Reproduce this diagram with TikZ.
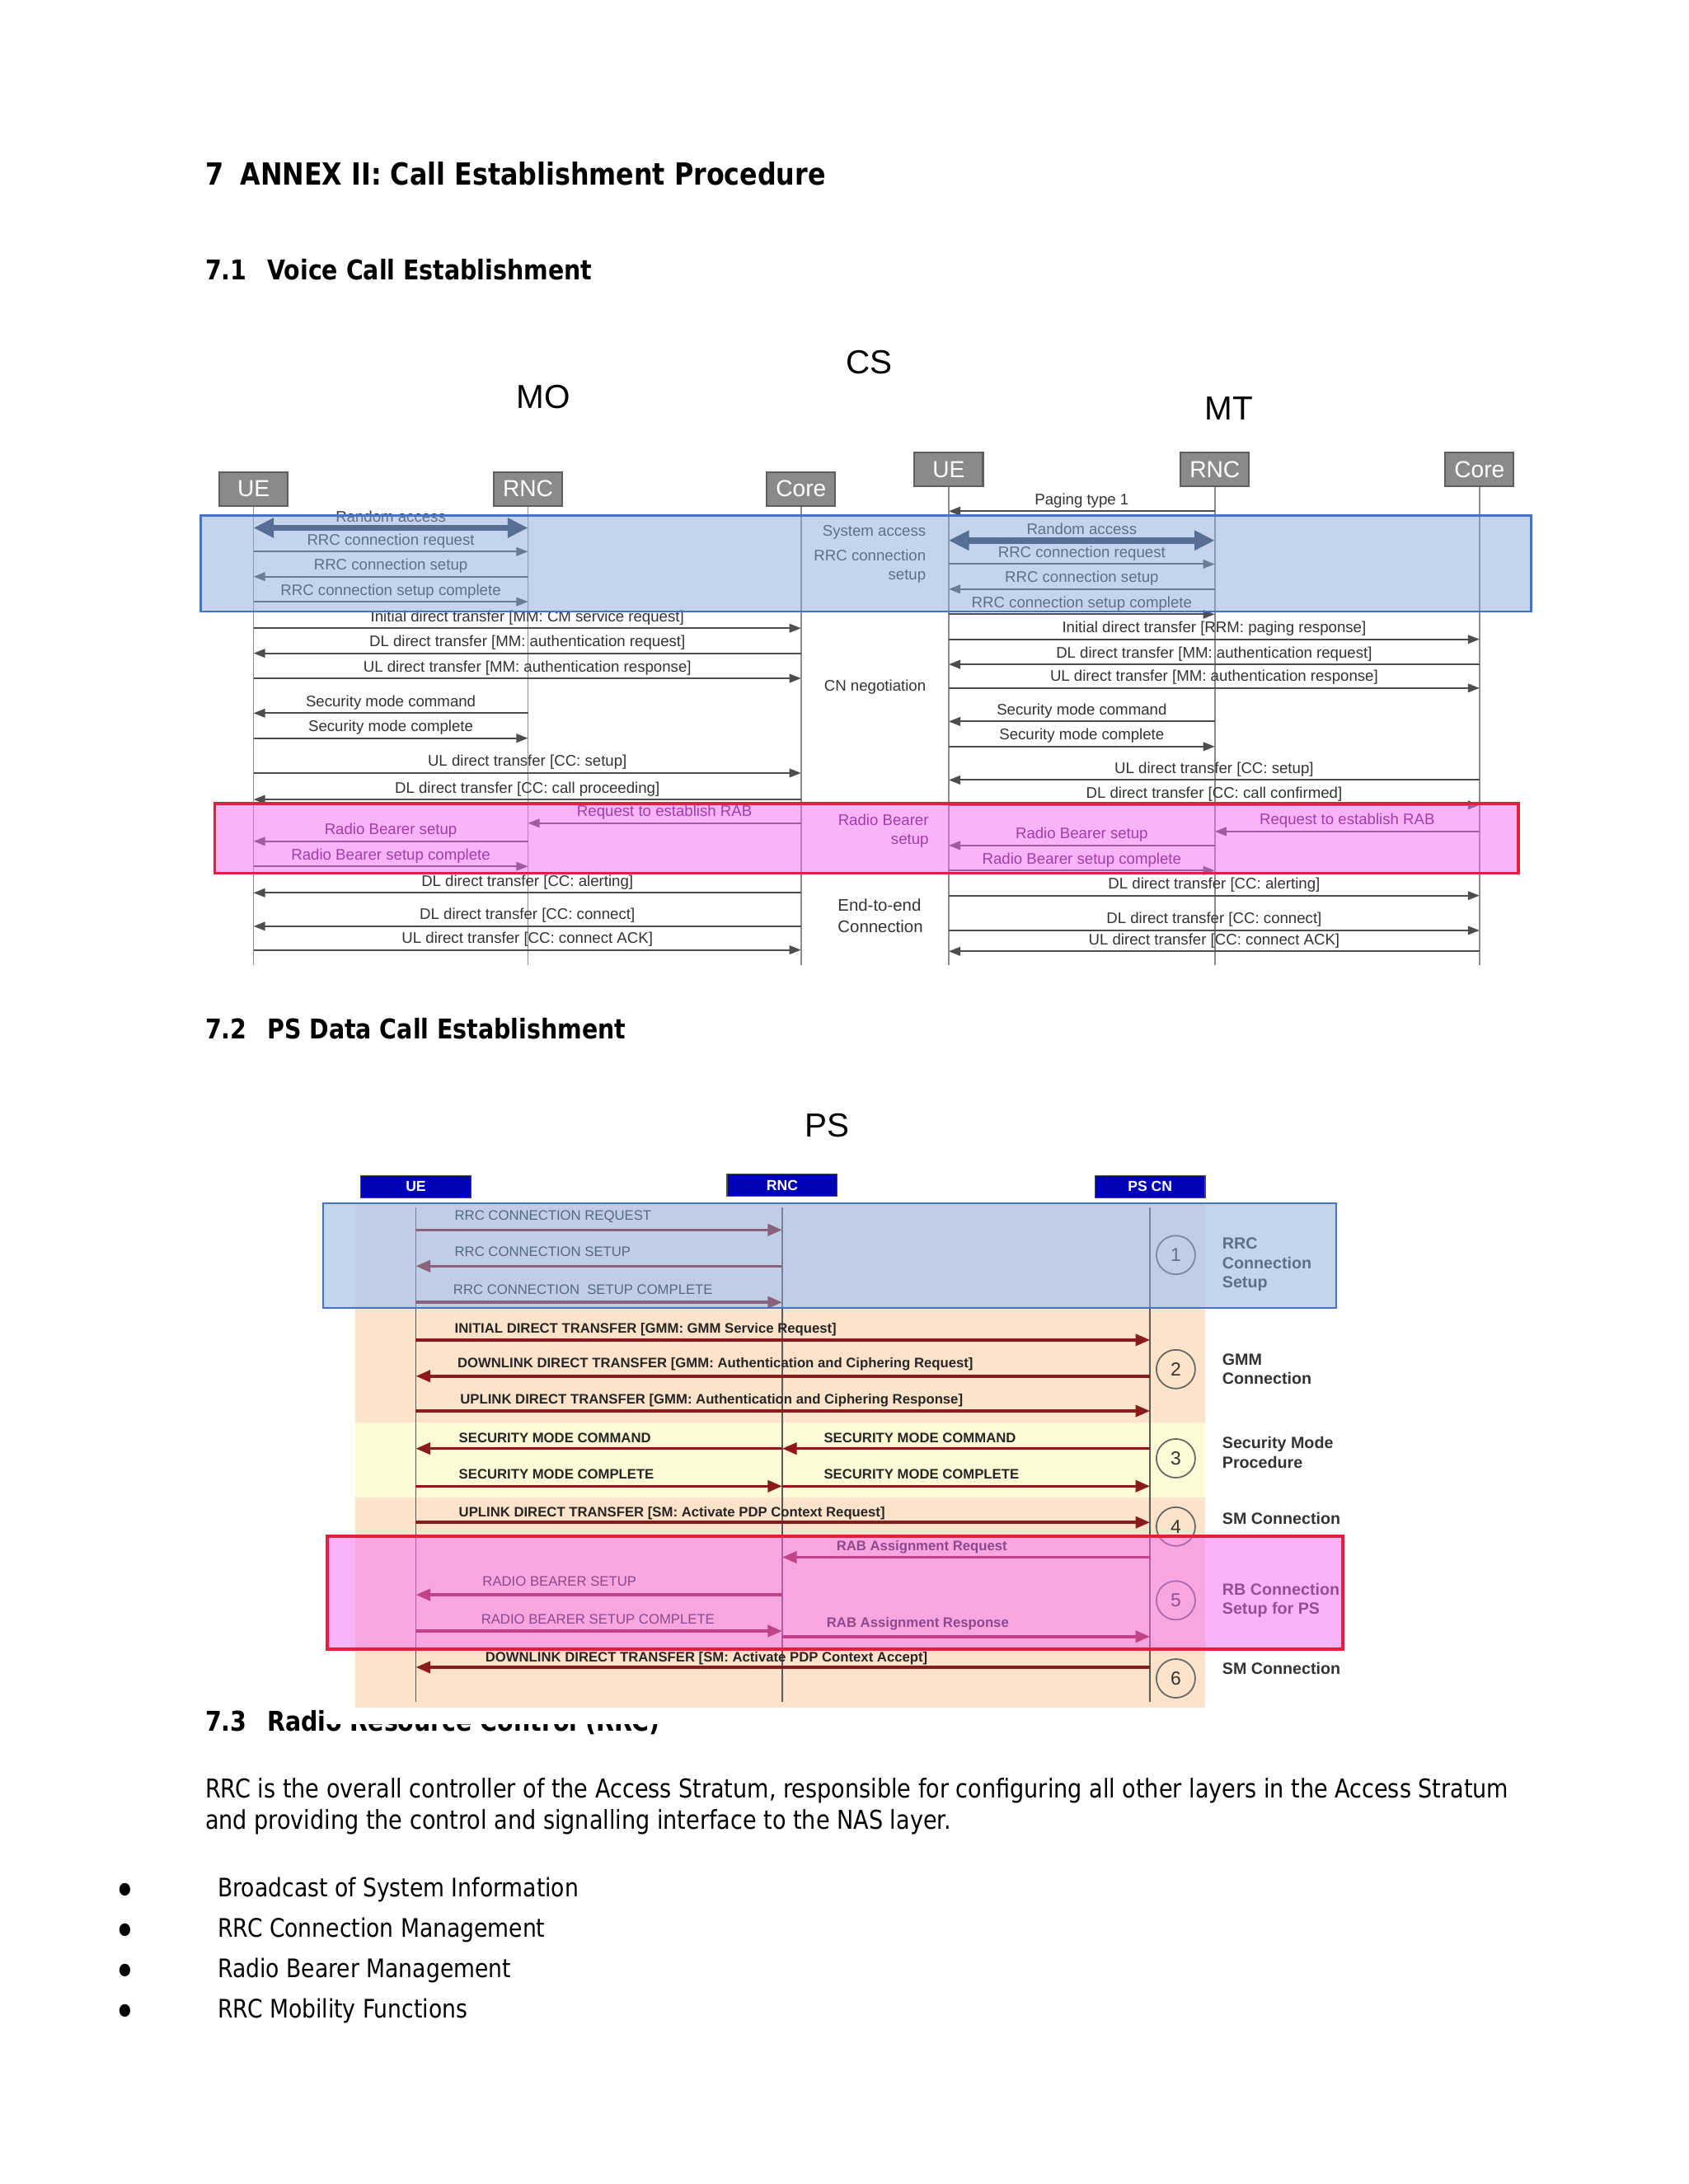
\documentclass[tikz,border=0pt]{standalone}
\usepackage{fontspec}
\setmainfont{DejaVu Sans}[FakeStretch=0.86]
\newfontfamily\diagfont{Liberation Sans}
\usepackage{tikz}
\usetikzlibrary{arrows.meta,positioning}
\definecolor{boxGray}{HTML}{8A8A8A}
\definecolor{boxBorder}{HTML}{5E5E5E}
\definecolor{lifeGray}{HTML}{8C8C8C}
\definecolor{msgGray}{HTML}{4D4D4D}
\definecolor{txtGray}{HTML}{333333}
\definecolor{raBlue}{HTML}{26324C}
\definecolor{bandBlue}{HTML}{8BABDD}
\definecolor{bandBorder}{HTML}{4472C4}
\definecolor{bandPink}{HTML}{F56BF5}
\definecolor{bandRed}{HTML}{E0203C}
\definecolor{rbPurple}{HTML}{4A1060}
\definecolor{psBlue}{HTML}{0000B8}
\definecolor{psRed}{HTML}{8B1A1A}
\definecolor{psOrange}{HTML}{FCE3CA}
\definecolor{psYellow}{HTML}{FEFAD6}
\definecolor{psGray}{HTML}{F4F3EC}

\begin{document}
\begin{tikzpicture}[x=0.016898cm, y=-0.016898cm,
  hone/.style={anchor=base west, inner sep=0, font=\bfseries\fontsize{10.5}{12}\selectfont},
  htwo/.style={anchor=base west, inner sep=0, font=\bfseries\fontsize{9.4}{11}\selectfont},
  body/.style={anchor=base west, inner sep=0, font=\fontsize{8.8}{10}\selectfont},
  bul/.style={anchor=base, inner sep=0, font=\fontsize{15}{16}\selectfont},
  title/.style={font=\diagfont\fontsize{11.5}{13}\selectfont, inner sep=0},
  box/.style={draw=boxBorder, fill=boxGray, text=white, line width=0.6pt,
    minimum width=0.83cm, minimum height=0.41cm, inner sep=0,
    font=\diagfont\fontsize{8}{9}\selectfont},
  psbox/.style={draw=black!70, fill=psBlue, text=white, line width=0.4pt,
    minimum width=1.335cm, minimum height=0.27cm, inner sep=0,
    font=\diagfont\bfseries\fontsize{5}{6}\selectfont},
  life/.style={draw=lifeGray, line width=0.5pt},
  pslife/.style={draw=black!65, line width=0.5pt},
  msg/.style={draw=msgGray, line width=0.55pt, -{Triangle[length=4pt,width=3pt]}},
  ramsg/.style={draw=raBlue, line width=2.2pt,
    {Triangle[length=7pt,width=6.5pt]}-{Triangle[length=7pt,width=6.5pt]}},
  lbl/.style={midway, above=0.6pt, inner sep=0.3pt, text=txtGray,
    font=\diagfont\fontsize{5.3}{6}\selectfont},
  rblbl/.style={lbl, text=rbPurple},
  side/.style={inner sep=0, text=txtGray, font=\diagfont\fontsize{5.3}{6.4}\selectfont},
  psmsg/.style={draw=psRed, line width=1pt, -{Triangle[length=5pt,width=4pt]}},
  pslbl/.style={anchor=base west, inner sep=0, text=black!85,
    font=\diagfont\bfseries\fontsize{4.75}{5.5}\selectfont},
  pslbr/.style={anchor=base west, inner sep=0, text=black!85,
    font=\diagfont\fontsize{4.75}{5.5}\selectfont},
  numc/.style={circle, draw=black!60, line width=0.5pt, minimum size=0.47cm, inner sep=0,
    text=txtGray, font=\diagfont\fontsize{6.5}{7}\selectfont},
  pside/.style={anchor=west, align=left, inner sep=0, text=txtGray,
    font=\diagfont\bfseries\fontsize{5.6}{6.7}\selectfont},
  overblue/.style={fill=bandBlue, fill opacity=0.5, draw=bandBorder, draw opacity=1, line width=0.7pt},
  overpink/.style={fill=bandPink, fill opacity=0.5, draw=bandRed, draw opacity=1, line width=1pt},
]
\useasboundingbox[fill=white] (0,0) rectangle (1212,1568);

% headings
\node[hone] (h7) at (147,133) {7\hspace{0.55em}ANNEX II: Call Establishment Procedure};
\node[htwo] (h71) at (147,201) {7.1\hspace{0.75em}Voice Call Establishment};
\node[htwo] (h72) at (147,746) {7.2\hspace{0.75em}PS Data Call Establishment};
\node[htwo] (h73) at (147,1243) {7.3\hspace{0.75em}Radio Resource Control (RRC)};

% body
\node[body, font=\fontsize{8.95}{10}\selectfont] (para1) at (147,1291) {RRC is the overall controller of the Access Stratum, responsible for configuring all other layers in the Access Stratum};
\node[body, font=\fontsize{8.95}{10}\selectfont] (para2) at (147,1313) {and providing the control and signalling interface to the NAS layer.};
\node[bul] (b1) at (90,1368) {\textbullet};
\node[bul] (b2) at (90,1397) {\textbullet};
\node[bul] (b3) at (90,1426) {\textbullet};
\node[bul] (b4) at (90,1455) {\textbullet};
\node[body] (i1) at (156,1362) {Broadcast of System Information};
\node[body] (i2) at (156,1391) {RRC Connection Management};
\node[body] (i3) at (156,1420) {Radio Bearer Management};
\node[body] (i4) at (156,1449) {RRC Mobility Functions};

% ---------------- CS ----------------
\node[title] (cs) at (624,260) {CS};
\node[title] (mo) at (390,285) {MO};
\node[title] (mt) at (882,293) {MT};

\node[box] (mue) at (182,351) {UE};
\node[box] (mrnc) at (379,351) {RNC};
\node[box] (mcore) at (575,351) {Core};
\node[box] (tue) at (681,337) {UE};
\node[box] (trnc) at (872,337) {RNC};
\node[box] (tcore) at (1062,337) {Core};

\foreach \n in {mue,mrnc,mcore,tue,trnc,tcore}
  \draw[life] (\n.south) -- (\n.south |- 0,693);

% MO
\draw[ramsg] (mue |- 0,379) -- node[lbl] {Random access} (mrnc |- 0,379);
\draw[msg] (mue |- 0,396) -- node[lbl] {RRC connection request} (mrnc |- 0,396);
\draw[msg] (mrnc |- 0,414) -- node[lbl] {RRC connection setup} (mue |- 0,414);
\draw[msg] (mue |- 0,432) -- node[lbl] {RRC connection setup complete} (mrnc |- 0,432);
\draw[msg] (mue |- 0,451) -- node[lbl] {Initial direct transfer [MM: CM service request]} (mcore |- 0,451);
\draw[msg] (mcore |- 0,469) -- node[lbl] {DL direct transfer [MM: authentication request]} (mue |- 0,469);
\draw[msg] (mue |- 0,487) -- node[lbl] {UL direct transfer [MM: authentication response]} (mcore |- 0,487);
\draw[msg] (mrnc |- 0,512) -- node[lbl] {Security mode command} (mue |- 0,512);
\draw[msg] (mue |- 0,530) -- node[lbl] {Security mode complete} (mrnc |- 0,530);
\draw[msg] (mue |- 0,555) -- node[lbl] {UL direct transfer [CC: setup]} (mcore |- 0,555);
\draw[msg] (mcore |- 0,574) -- node[lbl] {DL direct transfer [CC: call proceeding]} (mue |- 0,574);
\draw[msg] (mcore |- 0,591) -- node[rblbl] {Request to establish RAB} (mrnc |- 0,591);
\draw[msg] (mrnc |- 0,604) -- node[rblbl] {Radio Bearer setup} (mue |- 0,604);
\draw[msg] (mue |- 0,622) -- node[rblbl] {Radio Bearer setup complete} (mrnc |- 0,622);
\draw[msg] (mcore |- 0,641) -- node[lbl] {DL direct transfer [CC: alerting]} (mue |- 0,641);
\draw[msg] (mcore |- 0,665) -- node[lbl] {DL direct transfer [CC: connect]} (mue |- 0,665);
\draw[msg] (mue |- 0,682) -- node[lbl] {UL direct transfer [CC: connect ACK]} (mcore |- 0,682);

% MT
\draw[msg] (trnc |- 0,367) -- node[lbl] {Paging type 1} (tue |- 0,367);
\draw[ramsg] (tue |- 0,388) -- node[lbl] {Random access} (trnc |- 0,388);
\draw[msg] (tue |- 0,405) -- node[lbl] {RRC connection request} (trnc |- 0,405);
\draw[msg] (trnc |- 0,423) -- node[lbl] {RRC connection setup} (tue |- 0,423);
\draw[msg] (tue |- 0,441) -- node[lbl] {RRC connection setup complete} (trnc |- 0,441);
\draw[msg] (tue |- 0,459) -- node[lbl] {Initial direct transfer [RRM: paging response]} (tcore |- 0,459);
\draw[msg] (tcore |- 0,477) -- node[lbl] {DL direct transfer [MM: authentication request]} (tue |- 0,477);
\draw[msg] (tue |- 0,494) -- node[lbl] {UL direct transfer [MM: authentication response]} (tcore |- 0,494);
\draw[msg] (trnc |- 0,518) -- node[lbl] {Security mode command} (tue |- 0,518);
\draw[msg] (tue |- 0,536) -- node[lbl] {Security mode complete} (trnc |- 0,536);
\draw[msg] (tcore |- 0,560) -- node[lbl] {UL direct transfer [CC: setup]} (tue |- 0,560);
\draw[msg] (tue |- 0,578) -- node[lbl] {DL direct transfer [CC: call confirmed]} (tcore |- 0,578);
\draw[msg] (tcore |- 0,597) -- node[rblbl] {Request to establish RAB} (trnc |- 0,597);
\draw[msg] (trnc |- 0,607) -- node[rblbl] {Radio Bearer setup} (tue |- 0,607);
\draw[msg] (tue |- 0,625) -- node[rblbl] {Radio Bearer setup complete} (trnc |- 0,625);
\draw[msg] (tue |- 0,643) -- node[lbl] {DL direct transfer [CC: alerting]} (tcore |- 0,643);
\draw[msg] (tue |- 0,668) -- node[lbl] {DL direct transfer [CC: connect]} (tcore |- 0,668);
\draw[msg] (tcore |- 0,683) -- node[lbl] {UL direct transfer [CC: connect ACK]} (tue |- 0,683);

% phase labels
\node[side, anchor=east] (lsys) at (665,382) {System access};
\node[side, anchor=east, align=right] (lrrc) at (665,406.5) {RRC connection\\setup};
\node[side, anchor=east] (lcn) at (665,493) {CN negotiation};
\node[side, anchor=east, align=right, text=rbPurple] (lrb) at (667,596.5) {Radio Bearer\\setup};
\node[side, anchor=west, align=left, font=\diagfont\fontsize{5.8}{7.2}\selectfont] (lete) at (601,657.5) {End-to-end\\Connection};

\draw[overblue] (144,370) rectangle (1099,439);
\draw[overpink] (154,577) rectangle (1090,627);

% ---------------- PS ----------------
\fill[white] (233,1180) rectangle (968,1238);
\fill[psGray] (255,864) rectangle (865,939);
\fill[psOrange] (255,939) rectangle (865,1021);
\fill[psYellow] (255,1021) rectangle (865,1075);
\fill[psOrange] (255,1075) rectangle (865,1226);

\node[title] (ps) at (594,808) {PS};
\node[psbox] (pue) at (298.5,852) {UE};
\node[psbox] (prnc) at (561.5,851) {RNC};
\node[psbox] (pcn) at (825.5,852) {PS CN};

\foreach \n in {pue,prnc,pcn}
  \draw[pslife] (\n |- 0,867) -- (\n |- 0,1222);

\draw[psmsg] (pue |- 0,883) -- (prnc |- 0,883);
\node[pslbr] (r1) at (326,876) {RRC CONNECTION REQUEST};
\draw[psmsg] (prnc |- 0,909) -- (pue |- 0,909);
\node[pslbr] (r2) at (326,902) {RRC CONNECTION SETUP};
\draw[psmsg] (pue |- 0,935) -- (prnc |- 0,935);
\node[pslbr] (r3) at (325,929) {RRC CONNECTION\ \ SETUP COMPLETE};
\draw[psmsg] (pue |- 0,962) -- (pcn |- 0,962);
\node[pslbl] (g1) at (326,957) {INITIAL DIRECT TRANSFER [GMM: GMM Service Request]};
\draw[psmsg] (pcn |- 0,988) -- (pue |- 0,988);
\node[pslbl] (g2) at (328,982) {DOWNLINK DIRECT TRANSFER [GMM: Authentication and Ciphering Request]};
\draw[psmsg] (pue |- 0,1013) -- (pcn |- 0,1013);
\node[pslbl] (g3) at (330,1008) {UPLINK DIRECT TRANSFER [GMM: Authentication and Ciphering Response]};
\draw[psmsg] (prnc |- 0,1040) -- (pue |- 0,1040);
\node[pslbl] (s1) at (329,1036) {SECURITY MODE COMMAND};
\draw[psmsg] (pcn |- 0,1040) -- (prnc |- 0,1040);
\node[pslbl] (s2) at (591,1036) {SECURITY MODE COMMAND};
\draw[psmsg] (pue |- 0,1067) -- (prnc |- 0,1067);
\node[pslbl] (s3) at (329,1062) {SECURITY MODE COMPLETE};
\draw[psmsg] (prnc |- 0,1067) -- (pcn |- 0,1067);
\node[pslbl] (s4) at (591,1062) {SECURITY MODE COMPLETE};
\draw[psmsg] (pue |- 0,1093) -- (pcn |- 0,1093);
\node[pslbl] (a1) at (329,1089) {UPLINK DIRECT TRANSFER [SM: Activate PDP Context Request]};
\draw[psmsg] (pcn |- 0,1118) -- (prnc |- 0,1118);
\node[pslbl] (a2) at (600,1113) {RAB Assignment Request};
\draw[psmsg] (prnc |- 0,1145) -- (pue |- 0,1145);
\node[pslbr] (a3) at (346,1139) {RADIO BEARER SETUP};
\draw[psmsg] (pue |- 0,1171) -- (prnc |- 0,1171);
\node[pslbr] (a4) at (345,1166) {RADIO BEARER SETUP COMPLETE};
\draw[psmsg] (prnc |- 0,1175) -- (pcn |- 0,1175);
\node[pslbl] (a5) at (593,1168) {RAB Assignment Response};
\draw[psmsg] (pcn |- 0,1197) -- (pue |- 0,1197);
\node[pslbl] (a6) at (348,1193) {DOWNLINK DIRECT TRANSFER [SM: Activate PDP Context Accept]};

% steps
\node[numc] (c1) at (844,901) {1};
\node[numc] (c2) at (844,983) {2};
\node[numc] (c3) at (844,1047) {3};
\node[numc] (c4) at (844,1096) {4};
\node[numc] (c5) at (844,1149) {5};
\node[numc] (c6) at (844,1205) {6};
\node[pside] (t1) at (877,908) {RRC\\Connection\\Setup};
\node[pside] (t2) at (877,983) {GMM\\Connection};
\node[pside] (t3) at (877,1043) {Security Mode\\Procedure};
\node[pside] (t4) at (877,1090) {SM Connection};
\node[pside] (t5) at (877,1149) {RB Connection\\Setup for PS};
\node[pside] (t6) at (877,1198) {SM Connection};

\draw[overblue] (232,864) rectangle (959,939);
\draw[overpink] (235,1103) rectangle (964,1184);
\end{tikzpicture}
\end{document}
